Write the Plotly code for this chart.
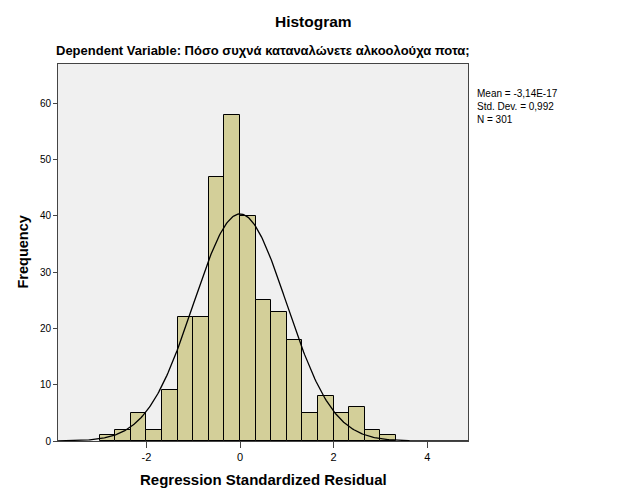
import numpy as np
import plotly.graph_objects as go

# Data
bin_start = -3.0
bin_width = 1.0 / 3.0
counts = [1, 2, 5, 2, 9, 22, 22, 47, 58, 40, 25, 23, 18, 5, 8, 5, 6, 2, 1]
mean_val = -3.14e-17
std_val = 0.992
n_val = 301
x_ticks = [-2, 0, 2, 4]
y_ticks = [0, 10, 20, 30, 40, 50, 60]

centers = [bin_start + bin_width * (i + 0.5) for i in range(len(counts))]

x_range = [-3.89, 4.87]
y_range = [0, 67]

xs = np.linspace(x_range[0], x_range[1], 400)
ys = n_val * bin_width / (std_val * np.sqrt(2 * np.pi)) * np.exp(-0.5 * ((xs - mean_val) / std_val) ** 2)

fig = go.Figure()
fig.add_trace(go.Bar(x=centers, y=counts, width=bin_width,
                     marker=dict(color="#D3CF99", line=dict(color="#000000", width=1)),
                     showlegend=False, hoverinfo="skip"))
fig.add_trace(go.Scatter(x=xs, y=ys, mode="lines", line=dict(color="#000000", width=1.3),
                         showlegend=False, hoverinfo="skip"))

font_family = "Liberation Sans, Arial, sans-serif"
L, R, T, B = 58, 158, 64, 60
W, H = 626, 501
pw = W - L - R

fig.update_layout(
    width=W, height=H,
    margin=dict(l=L, r=R, t=T, b=B),
    paper_bgcolor="white",
    plot_bgcolor="#F0F0F0",
    bargap=0,
    font=dict(family=font_family, color="#000000", size=11),
    xaxis=dict(range=x_range, tickvals=x_ticks, ticktext=[str(v) for v in x_ticks],
               showgrid=False, zeroline=False, showline=True, linecolor="#444444", linewidth=1,
               mirror=True, ticks="outside", ticklen=6, tickcolor="#444444",
               tickfont=dict(size=11)),
    yaxis=dict(range=y_range, tickvals=y_ticks, showgrid=False, zeroline=False,
               showline=True, linecolor="#444444", linewidth=1, mirror=True,
               ticks="outside", ticklen=4, tickcolor="#444444", tickfont=dict(size=10)),
    annotations=[
        dict(text="<b>Histogram</b>", xref="paper", yref="paper",
             x=(313 - L) / pw, y=1 + (T - 21) / (H - T - B), xanchor="center", yanchor="middle",
             showarrow=False, font=dict(size=15.5)),
        dict(text="<b>Dependent Variable: Πόσο συχνά καταναλώνετε αλκοολούχα ποτα;</b>",
             xref="paper", yref="paper", x=0.5, y=1 + (T - 51) / (H - T - B),
             xanchor="center", yanchor="middle", showarrow=False, font=dict(size=13)),
        dict(text="<b>Regression Standardized Residual</b>", xref="paper", yref="paper",
             x=0.5, y=-(479 - (H - B)) / (H - T - B), xanchor="center", yanchor="middle",
             showarrow=False, font=dict(size=15)),
        dict(text="<b>Frequency</b>", xref="paper", yref="paper",
             x=-(L - 22) / pw, y=0.5, xanchor="center", yanchor="middle", textangle=-90,
             showarrow=False, font=dict(size=14.5)),
        dict(text=f"Mean = -3,14E-17<br>Std. Dev. = 0,992<br>N = {n_val}",
             xref="paper", yref="paper", x=1 + (475 - (W - R)) / pw, y=1 - (86 - T) / (H - T - B),
             xanchor="left", yanchor="top", align="left", showarrow=False,
             font=dict(size=10)),
    ],
)

fig.write_html("out.html")
